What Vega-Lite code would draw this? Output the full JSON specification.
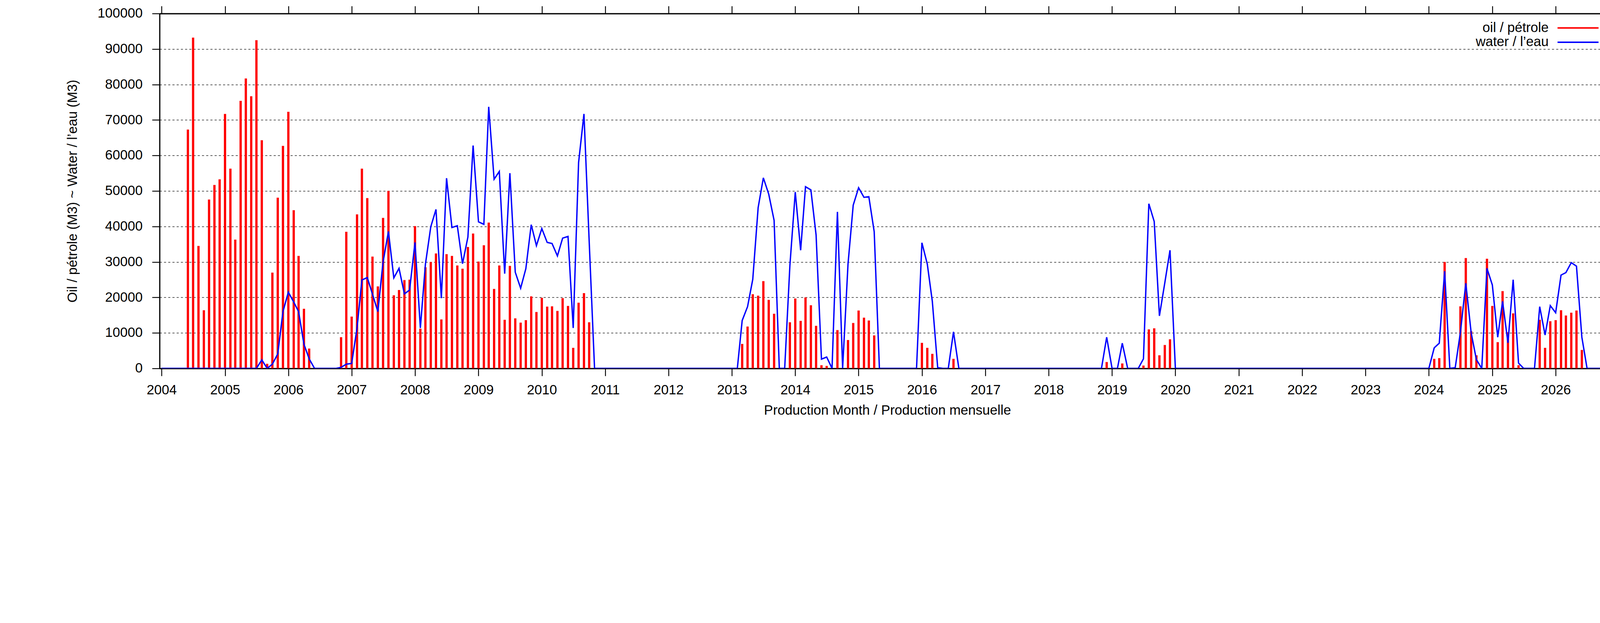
{
  "$schema": "https://vega.github.io/schema/vega-lite/v6.json",
  "width": 3726,
  "height": 908,
  "autosize": {"type": "none"},
  "padding": {"left": 408.5, "top": 34.6, "right": 83.5, "bottom": 283.4},
  "background": "white",
  "config": {
    "font": "Liberation Sans",
    "view": {"stroke": null},
    "axis": {
      "domainColor": "black",
      "domainWidth": 3.1,
      "tickColor": "black",
      "tickWidth": 2.3,
      "tickSize": 19.2,
      "labelFont": "Liberation Sans",
      "labelFontSize": 34.6,
      "labelColor": "black",
      "titleFont": "Liberation Sans",
      "titleFontSize": 34.6,
      "titleFontWeight": "normal",
      "titleColor": "black",
      "gridColor": "black",
      "gridDash": [5.4, 5.4],
      "gridWidth": 1.15
    }
  },
  "data": {
    "values": [
      {"month": "2004-01-01", "oil": 0, "water": 0},
      {"month": "2004-02-01", "oil": 0, "water": 0},
      {"month": "2004-03-01", "oil": 0, "water": 0},
      {"month": "2004-04-01", "oil": 0, "water": 0},
      {"month": "2004-05-01", "oil": 0, "water": 0},
      {"month": "2004-06-01", "oil": 67300, "water": 0},
      {"month": "2004-07-01", "oil": 93200, "water": 0},
      {"month": "2004-08-01", "oil": 34500, "water": 0},
      {"month": "2004-09-01", "oil": 16400, "water": 0},
      {"month": "2004-10-01", "oil": 47600, "water": 0},
      {"month": "2004-11-01", "oil": 51700, "water": 0},
      {"month": "2004-12-01", "oil": 53300, "water": 0},
      {"month": "2005-01-01", "oil": 71700, "water": 0},
      {"month": "2005-02-01", "oil": 56300, "water": 0},
      {"month": "2005-03-01", "oil": 36300, "water": 0},
      {"month": "2005-04-01", "oil": 75400, "water": 0},
      {"month": "2005-05-01", "oil": 81700, "water": 0},
      {"month": "2005-06-01", "oil": 76700, "water": 0},
      {"month": "2005-07-01", "oil": 92500, "water": 0},
      {"month": "2005-08-01", "oil": 64300, "water": 2400},
      {"month": "2005-09-01", "oil": 1300, "water": 0},
      {"month": "2005-10-01", "oil": 27000, "water": 1200},
      {"month": "2005-11-01", "oil": 48100, "water": 4100},
      {"month": "2005-12-01", "oil": 62700, "water": 16000},
      {"month": "2006-01-01", "oil": 72300, "water": 21500},
      {"month": "2006-02-01", "oil": 44600, "water": 18700},
      {"month": "2006-03-01", "oil": 31700, "water": 16000},
      {"month": "2006-04-01", "oil": 16800, "water": 6800},
      {"month": "2006-05-01", "oil": 5600, "water": 2700},
      {"month": "2006-06-01", "oil": 0, "water": 0},
      {"month": "2006-07-01", "oil": 0, "water": 0},
      {"month": "2006-08-01", "oil": 0, "water": 0},
      {"month": "2006-09-01", "oil": 0, "water": 0},
      {"month": "2006-10-01", "oil": 0, "water": 0},
      {"month": "2006-11-01", "oil": 8800, "water": 300},
      {"month": "2006-12-01", "oil": 38500, "water": 1200},
      {"month": "2007-01-01", "oil": 14600, "water": 1400},
      {"month": "2007-02-01", "oil": 43400, "water": 11400},
      {"month": "2007-03-01", "oil": 56300, "water": 24900},
      {"month": "2007-04-01", "oil": 48000, "water": 25600},
      {"month": "2007-05-01", "oil": 31500, "water": 20900},
      {"month": "2007-06-01", "oil": 23100, "water": 16000},
      {"month": "2007-07-01", "oil": 42400, "water": 30000},
      {"month": "2007-08-01", "oil": 50000, "water": 38600},
      {"month": "2007-09-01", "oil": 20600, "water": 25500},
      {"month": "2007-10-01", "oil": 22100, "water": 28200},
      {"month": "2007-11-01", "oil": 24900, "water": 21000},
      {"month": "2007-12-01", "oil": 25000, "water": 22100},
      {"month": "2008-01-01", "oil": 40100, "water": 35500},
      {"month": "2008-02-01", "oil": 11200, "water": 11400},
      {"month": "2008-03-01", "oil": 28500, "water": 29300},
      {"month": "2008-04-01", "oil": 30000, "water": 39900},
      {"month": "2008-05-01", "oil": 32400, "water": 44800},
      {"month": "2008-06-01", "oil": 13800, "water": 19800},
      {"month": "2008-07-01", "oil": 32200, "water": 53600},
      {"month": "2008-08-01", "oil": 31700, "water": 39700},
      {"month": "2008-09-01", "oil": 29000, "water": 40200},
      {"month": "2008-10-01", "oil": 28100, "water": 29500},
      {"month": "2008-11-01", "oil": 34200, "water": 37000},
      {"month": "2008-12-01", "oil": 38000, "water": 62800},
      {"month": "2009-01-01", "oil": 30100, "water": 41300},
      {"month": "2009-02-01", "oil": 34700, "water": 40600},
      {"month": "2009-03-01", "oil": 41100, "water": 73700},
      {"month": "2009-04-01", "oil": 22400, "water": 53300},
      {"month": "2009-05-01", "oil": 29000, "water": 55500},
      {"month": "2009-06-01", "oil": 13700, "water": 26700},
      {"month": "2009-07-01", "oil": 28900, "water": 55000},
      {"month": "2009-08-01", "oil": 14100, "water": 27100},
      {"month": "2009-09-01", "oil": 12900, "water": 22600},
      {"month": "2009-10-01", "oil": 13600, "water": 28100},
      {"month": "2009-11-01", "oil": 20300, "water": 40500},
      {"month": "2009-12-01", "oil": 15900, "water": 34600},
      {"month": "2010-01-01", "oil": 19900, "water": 39400},
      {"month": "2010-02-01", "oil": 17400, "water": 35500},
      {"month": "2010-03-01", "oil": 17500, "water": 35200},
      {"month": "2010-04-01", "oil": 16200, "water": 31700},
      {"month": "2010-05-01", "oil": 19800, "water": 36700},
      {"month": "2010-06-01", "oil": 17600, "water": 37200},
      {"month": "2010-07-01", "oil": 5800, "water": 11400},
      {"month": "2010-08-01", "oil": 18500, "water": 58000},
      {"month": "2010-09-01", "oil": 21200, "water": 71700},
      {"month": "2010-10-01", "oil": 13000, "water": 35900},
      {"month": "2010-11-01", "oil": 0, "water": 0},
      {"month": "2010-12-01", "oil": 0, "water": 0},
      {"month": "2011-01-01", "oil": 0, "water": 0},
      {"month": "2011-02-01", "oil": 0, "water": 0},
      {"month": "2011-03-01", "oil": 0, "water": 0},
      {"month": "2011-04-01", "oil": 0, "water": 0},
      {"month": "2011-05-01", "oil": 0, "water": 0},
      {"month": "2011-06-01", "oil": 0, "water": 0},
      {"month": "2011-07-01", "oil": 0, "water": 0},
      {"month": "2011-08-01", "oil": 0, "water": 0},
      {"month": "2011-09-01", "oil": 0, "water": 0},
      {"month": "2011-10-01", "oil": 0, "water": 0},
      {"month": "2011-11-01", "oil": 0, "water": 0},
      {"month": "2011-12-01", "oil": 0, "water": 0},
      {"month": "2012-01-01", "oil": 0, "water": 0},
      {"month": "2012-02-01", "oil": 0, "water": 0},
      {"month": "2012-03-01", "oil": 0, "water": 0},
      {"month": "2012-04-01", "oil": 0, "water": 0},
      {"month": "2012-05-01", "oil": 0, "water": 0},
      {"month": "2012-06-01", "oil": 0, "water": 0},
      {"month": "2012-07-01", "oil": 0, "water": 0},
      {"month": "2012-08-01", "oil": 0, "water": 0},
      {"month": "2012-09-01", "oil": 0, "water": 0},
      {"month": "2012-10-01", "oil": 0, "water": 0},
      {"month": "2012-11-01", "oil": 0, "water": 0},
      {"month": "2012-12-01", "oil": 0, "water": 0},
      {"month": "2013-01-01", "oil": 0, "water": 0},
      {"month": "2013-02-01", "oil": 0, "water": 0},
      {"month": "2013-03-01", "oil": 6900, "water": 13500},
      {"month": "2013-04-01", "oil": 11800, "water": 17400},
      {"month": "2013-05-01", "oil": 20900, "water": 25100},
      {"month": "2013-06-01", "oil": 20500, "water": 45300},
      {"month": "2013-07-01", "oil": 24600, "water": 53700},
      {"month": "2013-08-01", "oil": 19300, "water": 49100},
      {"month": "2013-09-01", "oil": 15400, "water": 41700},
      {"month": "2013-10-01", "oil": 0, "water": 0},
      {"month": "2013-11-01", "oil": 0, "water": 0},
      {"month": "2013-12-01", "oil": 13000, "water": 29000},
      {"month": "2014-01-01", "oil": 19700, "water": 49700},
      {"month": "2014-02-01", "oil": 13400, "water": 33300},
      {"month": "2014-03-01", "oil": 20000, "water": 51200},
      {"month": "2014-04-01", "oil": 17800, "water": 50300},
      {"month": "2014-05-01", "oil": 12000, "water": 37600},
      {"month": "2014-06-01", "oil": 900, "water": 2600},
      {"month": "2014-07-01", "oil": 700, "water": 3200},
      {"month": "2014-08-01", "oil": 0, "water": 0},
      {"month": "2014-09-01", "oil": 10800, "water": 44100},
      {"month": "2014-10-01", "oil": 0, "water": 0},
      {"month": "2014-11-01", "oil": 8000, "water": 29400},
      {"month": "2014-12-01", "oil": 12800, "water": 46000},
      {"month": "2015-01-01", "oil": 16300, "water": 50900},
      {"month": "2015-02-01", "oil": 14300, "water": 48200},
      {"month": "2015-03-01", "oil": 13500, "water": 48400},
      {"month": "2015-04-01", "oil": 9300, "water": 38500},
      {"month": "2015-05-01", "oil": 0, "water": 0},
      {"month": "2015-06-01", "oil": 0, "water": 0},
      {"month": "2015-07-01", "oil": 0, "water": 0},
      {"month": "2015-08-01", "oil": 0, "water": 0},
      {"month": "2015-09-01", "oil": 0, "water": 0},
      {"month": "2015-10-01", "oil": 0, "water": 0},
      {"month": "2015-11-01", "oil": 0, "water": 0},
      {"month": "2015-12-01", "oil": 0, "water": 0},
      {"month": "2016-01-01", "oil": 7200, "water": 35400},
      {"month": "2016-02-01", "oil": 5800, "water": 29400},
      {"month": "2016-03-01", "oil": 4100, "water": 18900},
      {"month": "2016-04-01", "oil": 0, "water": 200},
      {"month": "2016-05-01", "oil": 0, "water": 0},
      {"month": "2016-06-01", "oil": 0, "water": 0},
      {"month": "2016-07-01", "oil": 2700, "water": 10300},
      {"month": "2016-08-01", "oil": 0, "water": 0},
      {"month": "2016-09-01", "oil": 0, "water": 0},
      {"month": "2016-10-01", "oil": 0, "water": 0},
      {"month": "2016-11-01", "oil": 0, "water": 0},
      {"month": "2016-12-01", "oil": 0, "water": 0},
      {"month": "2017-01-01", "oil": 0, "water": 0},
      {"month": "2017-02-01", "oil": 0, "water": 0},
      {"month": "2017-03-01", "oil": 0, "water": 0},
      {"month": "2017-04-01", "oil": 0, "water": 0},
      {"month": "2017-05-01", "oil": 0, "water": 0},
      {"month": "2017-06-01", "oil": 0, "water": 0},
      {"month": "2017-07-01", "oil": 0, "water": 0},
      {"month": "2017-08-01", "oil": 0, "water": 0},
      {"month": "2017-09-01", "oil": 0, "water": 0},
      {"month": "2017-10-01", "oil": 0, "water": 0},
      {"month": "2017-11-01", "oil": 0, "water": 0},
      {"month": "2017-12-01", "oil": 0, "water": 0},
      {"month": "2018-01-01", "oil": 0, "water": 0},
      {"month": "2018-02-01", "oil": 0, "water": 0},
      {"month": "2018-03-01", "oil": 0, "water": 0},
      {"month": "2018-04-01", "oil": 0, "water": 0},
      {"month": "2018-05-01", "oil": 0, "water": 0},
      {"month": "2018-06-01", "oil": 0, "water": 0},
      {"month": "2018-07-01", "oil": 0, "water": 0},
      {"month": "2018-08-01", "oil": 0, "water": 0},
      {"month": "2018-09-01", "oil": 0, "water": 0},
      {"month": "2018-10-01", "oil": 0, "water": 0},
      {"month": "2018-11-01", "oil": 0, "water": 0},
      {"month": "2018-12-01", "oil": 1800, "water": 8800},
      {"month": "2019-01-01", "oil": 0, "water": 0},
      {"month": "2019-02-01", "oil": 0, "water": 0},
      {"month": "2019-03-01", "oil": 1400, "water": 7100},
      {"month": "2019-04-01", "oil": 0, "water": 0},
      {"month": "2019-05-01", "oil": 0, "water": 0},
      {"month": "2019-06-01", "oil": 0, "water": 0},
      {"month": "2019-07-01", "oil": 800, "water": 2700},
      {"month": "2019-08-01", "oil": 11000, "water": 46400},
      {"month": "2019-09-01", "oil": 11300, "water": 41400},
      {"month": "2019-10-01", "oil": 3700, "water": 14800},
      {"month": "2019-11-01", "oil": 6600, "water": 24100},
      {"month": "2019-12-01", "oil": 8200, "water": 33300},
      {"month": "2020-01-01", "oil": 0, "water": 0},
      {"month": "2020-02-01", "oil": 0, "water": 0},
      {"month": "2020-03-01", "oil": 0, "water": 0},
      {"month": "2020-04-01", "oil": 0, "water": 0},
      {"month": "2020-05-01", "oil": 0, "water": 0},
      {"month": "2020-06-01", "oil": 0, "water": 0},
      {"month": "2020-07-01", "oil": 0, "water": 0},
      {"month": "2020-08-01", "oil": 0, "water": 0},
      {"month": "2020-09-01", "oil": 0, "water": 0},
      {"month": "2020-10-01", "oil": 0, "water": 0},
      {"month": "2020-11-01", "oil": 0, "water": 0},
      {"month": "2020-12-01", "oil": 0, "water": 0},
      {"month": "2021-01-01", "oil": 0, "water": 0},
      {"month": "2021-02-01", "oil": 0, "water": 0},
      {"month": "2021-03-01", "oil": 0, "water": 0},
      {"month": "2021-04-01", "oil": 0, "water": 0},
      {"month": "2021-05-01", "oil": 0, "water": 0},
      {"month": "2021-06-01", "oil": 0, "water": 0},
      {"month": "2021-07-01", "oil": 0, "water": 0},
      {"month": "2021-08-01", "oil": 0, "water": 0},
      {"month": "2021-09-01", "oil": 0, "water": 0},
      {"month": "2021-10-01", "oil": 0, "water": 0},
      {"month": "2021-11-01", "oil": 0, "water": 0},
      {"month": "2021-12-01", "oil": 0, "water": 0},
      {"month": "2022-01-01", "oil": 0, "water": 0},
      {"month": "2022-02-01", "oil": 0, "water": 0},
      {"month": "2022-03-01", "oil": 0, "water": 0},
      {"month": "2022-04-01", "oil": 0, "water": 0},
      {"month": "2022-05-01", "oil": 0, "water": 0},
      {"month": "2022-06-01", "oil": 0, "water": 0},
      {"month": "2022-07-01", "oil": 0, "water": 0},
      {"month": "2022-08-01", "oil": 0, "water": 0},
      {"month": "2022-09-01", "oil": 0, "water": 0},
      {"month": "2022-10-01", "oil": 0, "water": 0},
      {"month": "2022-11-01", "oil": 0, "water": 0},
      {"month": "2022-12-01", "oil": 0, "water": 0},
      {"month": "2023-01-01", "oil": 0, "water": 0},
      {"month": "2023-02-01", "oil": 0, "water": 0},
      {"month": "2023-03-01", "oil": 0, "water": 0},
      {"month": "2023-04-01", "oil": 0, "water": 0},
      {"month": "2023-05-01", "oil": 0, "water": 0},
      {"month": "2023-06-01", "oil": 0, "water": 0},
      {"month": "2023-07-01", "oil": 0, "water": 0},
      {"month": "2023-08-01", "oil": 0, "water": 0},
      {"month": "2023-09-01", "oil": 0, "water": 0},
      {"month": "2023-10-01", "oil": 0, "water": 0},
      {"month": "2023-11-01", "oil": 0, "water": 0},
      {"month": "2023-12-01", "oil": 0, "water": 0},
      {"month": "2024-01-01", "oil": 0, "water": 0},
      {"month": "2024-02-01", "oil": 2700, "water": 5800},
      {"month": "2024-03-01", "oil": 2900, "water": 7100},
      {"month": "2024-04-01", "oil": 30000, "water": 27400},
      {"month": "2024-05-01", "oil": 0, "water": 0},
      {"month": "2024-06-01", "oil": 0, "water": 200},
      {"month": "2024-07-01", "oil": 17500, "water": 10200},
      {"month": "2024-08-01", "oil": 31100, "water": 24000},
      {"month": "2024-09-01", "oil": 10500, "water": 10000},
      {"month": "2024-10-01", "oil": 3700, "water": 2500},
      {"month": "2024-11-01", "oil": 0, "water": 0},
      {"month": "2024-12-01", "oil": 30900, "water": 28200},
      {"month": "2025-01-01", "oil": 17600, "water": 23500},
      {"month": "2025-02-01", "oil": 7400, "water": 8800},
      {"month": "2025-03-01", "oil": 21800, "water": 18900},
      {"month": "2025-04-01", "oil": 10200, "water": 7200},
      {"month": "2025-05-01", "oil": 15500, "water": 25000},
      {"month": "2025-06-01", "oil": 900, "water": 1500},
      {"month": "2025-07-01", "oil": 0, "water": 0},
      {"month": "2025-08-01", "oil": 0, "water": 0},
      {"month": "2025-09-01", "oil": 0, "water": 0},
      {"month": "2025-10-01", "oil": 13700, "water": 17400},
      {"month": "2025-11-01", "oil": 5800, "water": 9400},
      {"month": "2025-12-01", "oil": 13300, "water": 17700},
      {"month": "2026-01-01", "oil": 13600, "water": 15700},
      {"month": "2026-02-01", "oil": 16400, "water": 26300},
      {"month": "2026-03-01", "oil": 14900, "water": 27000},
      {"month": "2026-04-01", "oil": 15700, "water": 29800},
      {"month": "2026-05-01", "oil": 16300, "water": 28800},
      {"month": "2026-06-01", "oil": 5200, "water": 8800},
      {"month": "2026-07-01", "oil": 0, "water": 0},
      {"month": "2026-08-01", "oil": 0, "water": 0},
      {"month": "2026-09-01", "oil": 0, "water": 0},
      {"month": "2026-10-01", "oil": 0, "water": 0},
      {"month": "2026-11-01", "oil": 0, "water": 0},
      {"month": "2026-12-01", "oil": 0, "water": 0}
    ]
  },
  "layer": [
    {
      "transform": [{"filter": "datum.oil > 0"}],
      "mark": {"type": "bar", "size": 5.8},
      "encoding": {
        "x": {
          "field": "month",
          "type": "temporal",
          "scale": {
            "type": "utc",
            "domain": [
              {"year": 2004, "month": 1, "date": 1, "utc": true},
              {"year": 2026, "month": 11, "date": 28, "utc": true}
            ]
          },
          "axis": {
            "orient": "bottom",
            "format": "%Y",
            "formatType": "utc",
            "tickCount": {"interval": "year", "step": 1},
            "labelFlush": false,
            "labelOverlap": false,
            "labelPadding": 20,
            "grid": false,
            "title": "Production Month / Production mensuelle",
            "titlePadding": 18.5
          }
        },
        "y": {
          "field": "oil",
          "type": "quantitative",
          "scale": {"domain": [0, 100000], "nice": false},
          "axis": {
            "orient": "left",
            "values": [0, 10000, 20000, 30000, 40000, 50000, 60000, 70000, 80000, 90000, 100000],
            "format": "d",
            "grid": true,
            "labelPadding": 24.6,
            "labelOverlap": false,
            "title": "Oil / pétrole (M3) ~ Water / l’eau (M3)",
            "titlePadding": 46
          }
        },
        "color": {
          "datum": "oil / pétrole",
          "type": "nominal",
          "scale": {"domain": ["oil / pétrole", "water / l’eau"], "range": ["#ff0000", "#0000ff"]},
          "legend": {
            "title": null,
            "orient": "none",
            "legendX": 3614,
            "legendY": 19.6,
            "padding": 0,
            "rowPadding": 1.6,
            "symbolType": "M-3.5,0H3.5",
            "symbolSize": 900,
            "symbolStrokeWidth": 3.85,
            "labelFont": "Liberation Sans",
            "labelFontSize": 34.6,
            "labelColor": "black",
            "labelAlign": "right",
            "labelOffset": -92.6,
            "labelLimit": 1000,
            "encode": {
              "symbols": {
                "update": {
                  "stroke": {"scale": "color", "field": "value"},
                  "fill": {"value": "transparent"}
                }
              }
            }
          }
        }
      }
    },
    {
      "mark": {"type": "line", "strokeWidth": 3.5, "clip": true},
      "encoding": {
        "x": {
          "field": "month",
          "type": "temporal",
          "scale": {
            "type": "utc",
            "domain": [
              {"year": 2004, "month": 1, "date": 1, "utc": true},
              {"year": 2026, "month": 11, "date": 28, "utc": true}
            ]
          },
          "axis": {
            "orient": "top",
            "labels": false,
            "tickCount": {"interval": "year", "step": 1},
            "grid": false,
            "title": null
          }
        },
        "y": {
          "field": "water",
          "type": "quantitative",
          "scale": {"domain": [0, 100000], "nice": false},
          "axis": {
            "orient": "right",
            "labels": false,
            "values": [0, 10000, 20000, 30000, 40000, 50000, 60000, 70000, 80000, 90000, 100000],
            "grid": false,
            "title": null
          }
        },
        "color": {
          "datum": "water / l’eau",
          "type": "nominal"
        }
      }
    }
  ],
  "resolve": {"axis": {"x": "independent", "y": "independent"}}
}
